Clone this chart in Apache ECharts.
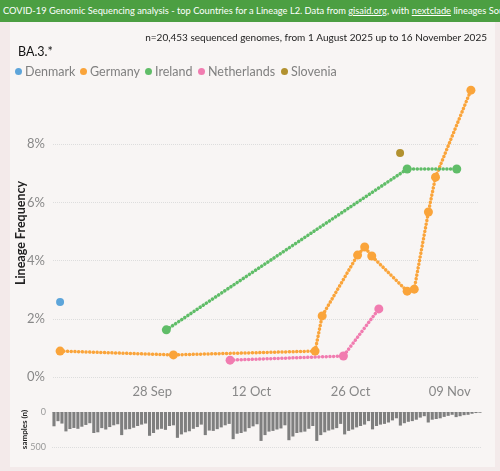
<!DOCTYPE html>
<html>
<head>
<meta charset="utf-8">
<title>BA.3.* lineage frequency</title>
<script src="https://cdn.jsdelivr.net/npm/echarts@6.0.0/dist/echarts.min.js"></script>
<style>
body { margin: 0; background: #f3eaea; font-family: Lato, sans-serif; }
#topbar { position: absolute; left: 0; top: 0; width: 500px; height: 22px; background: #4c9f42; color: #fff;
  font-size: 9.3px; line-height: 22px; white-space: nowrap; overflow: hidden; padding-left: 3px; box-sizing: border-box; }
#card { position: absolute; left: 10px; top: 22px; width: 485px; height: 445px; background: #f8f5f4; }
#chart { position: absolute; left: 0; top: 0; width: 500px; height: 471px; }
</style>
</head>
<body>
<div id="topbar">COVID-19 Genomic Sequencing analysis - top Countries for a Lineage L2. Data from <u>gisaid.org</u>, with <u>nextclade</u> lineages Source</div>
<div id="card"></div>
<div id="chart"></div>
<script type="text/javascript">
// frequency points per country (date, % of sequences)
var denmarkDates = ['2025-09-15'];
var denmarkValues = [2.58];
var germanyDates = ['2025-09-15', '2025-10-01', '2025-10-21', '2025-10-22', '2025-10-27', '2025-10-28',
  '2025-10-29', '2025-11-03', '2025-11-04', '2025-11-06', '2025-11-07', '2025-11-12'];
var germanyValues = [0.89, 0.76, 0.89, 2.1, 4.19, 4.47, 4.16, 2.95, 3.02, 5.67, 6.87, 9.86];
var irelandDates = ['2025-09-30', '2025-11-03', '2025-11-10'];
var irelandValues = [1.62, 7.15, 7.15];
var netherlandsDates = ['2025-10-09', '2025-10-25', '2025-10-30'];
var netherlandsValues = [0.58, 0.72, 2.34];
var sloveniaDates = ['2025-11-02'];
var sloveniaValues = [7.7];

// daily samples, 1 Aug 2025 .. 16 Nov 2025
var sampleCounts = [204, 131, 165,
  277, 243, 228, 240, 210, 185, 160,
  300, 290, 230, 250, 215, 190, 175,
  330, 250, 245, 225, 200, 180, 165,
  340, 300, 250, 240, 255, 200, 190,
  369, 320, 290, 275, 240, 215, 180,
  330, 265, 270, 245, 220, 190, 170,
  388, 310, 300, 280, 230, 205, 175,
  413, 330, 280, 270, 250, 235, 190,
  403, 350, 300, 290, 280, 240, 200,
  413, 330, 290, 265, 250, 230, 170,
  320, 270, 250, 220, 200, 180, 130,
  248, 200, 180, 170, 150, 120, 90,
  194, 160, 140, 130, 110, 80, 60,
  150, 110, 100, 90, 70, 55, 40,
  73, 60, 45, 40, 25, 15, 10];

var countries = ['Denmark', 'Germany', 'Ireland', 'Netherlands', 'Slovenia'];
var colors = ['#5da5da', '#faa43a', '#60bd68', '#f17cb0', '#b2912f'];
var legendLeft = [15, 80, 145, 198, 281];
var monthNames = ['Jan', 'Feb', 'Mar', 'Apr', 'May', 'Jun', 'Jul', 'Aug', 'Sep', 'Oct', 'Nov', 'Dec'];

// x axis counted in days from 14 Sep 2025 so ticks fall every 14 days on 28 Sep, 12 Oct ...
var day0 = Date.UTC(2025, 8, 14);
var DAY = 86400000;
function dayOf(s) {
	var p = s.split('-');
	return (Date.UTC(+p[0], +p[1] - 1, +p[2]) - day0) / DAY;
}
function pairs(dates, values) {
	var out = [];
	for (var i = 0; i < dates.length; i++) out.push([dayOf(dates[i]), values[i]]);
	return out;
}
var sampleDays = [];
for (var i = 0; i < sampleCounts.length; i++) {
	var d = new Date(Date.UTC(2025, 7, 1) + i * DAY);
	sampleDays.push(d.toISOString().slice(0, 10));
}

function lineSeries(name, data, color, size) {
	return {
		name: name,
		type: 'line',
		xAxisIndex: 0,
		yAxisIndex: 0,
		data: data,
		symbol: 'circle',
		symbolSize: size,
		color: color,
		lineStyle: { width: 3.5, type: [0.1, 3.6], cap: 'round', color: color },
		itemStyle: { color: color }
	};
}

// one legend per country so each entry sits where the original has it
var legends = [];
for (var k = 0; k < countries.length; k++) {
	legends.push({
		data: [countries[k]], left: legendLeft[k], top: 65, padding: 0,
		icon: 'circle', itemWidth: 7, itemHeight: 7,
		textStyle: { fontSize: 12.5, color: '#808080', padding: [0, 0, 0, -2] }
	});
}

var myChart = echarts.init(document.getElementById('chart'));
var option = {
	animation: false,
	textStyle: { fontFamily: 'Lato' },
	title: [{
		text: 'BA.3.*', left: 13, top: 40,
		textStyle: { fontSize: 12.5, fontWeight: 'normal', color: '#111' }
	}, {
		text: 'n=20,453 sequenced genomes, from 1 August 2025 up to 16 November 2025', right: 8, top: 28,
		textStyle: { fontSize: 10, fontWeight: 'normal', color: '#222' }
	}],
	legend: legends,
	grid: [
		{ left: 53, right: 22, top: 89, bottom: 94, outerBoundsMode: 'none' },
		{ left: 52, right: 18, top: 412, bottom: 24, outerBoundsMode: 'none' }
	],
	xAxis: [{
		type: 'value', gridIndex: 0, min: 0, max: 60, interval: 14,
		axisLine: { show: false }, axisTick: { show: false }, splitLine: { show: false },
		axisLabel: {
			color: '#888', fontSize: 13, margin: 8, showMinLabel: false, showMaxLabel: false,
			formatter: function (v) {
				var d = new Date(day0 + v * DAY);
				var dd = d.getUTCDate();
				return (dd < 10 ? '0' + dd : dd) + ' ' + monthNames[d.getUTCMonth()];
			}
		}
	}, {
		type: 'category', gridIndex: 1, data: sampleDays, show: false
	}],
	yAxis: [{
		type: 'value', gridIndex: 0, min: 0, max: 9.9, interval: 2,
		name: 'Lineage Frequency', nameLocation: 'middle', nameGap: 26, nameMoveOverlap: false,
		nameTextStyle: { fontSize: 12.5, fontWeight: 'bold', color: '#222' },
		axisLine: { show: false }, axisTick: { show: false },
		axisLabel: { formatter: '{value}%', color: '#888', fontSize: 13, margin: 8, showMaxLabel: false },
		splitLine: { showMaxLine: false, lineStyle: { type: 'dotted', color: '#dddddd', width: 1 } }
	}, {
		type: 'value', gridIndex: 1, min: 0, max: 500, interval: 500, inverse: true,
		name: 'samples (n)', nameLocation: 'middle', nameGap: 24, nameMoveOverlap: false,
		nameTextStyle: { fontSize: 8, fontWeight: 'bold', color: '#222' },
		axisLine: { show: false }, axisTick: { show: false },
		axisLabel: { color: '#999', fontSize: 9, margin: 6 },
		splitLine: { lineStyle: { type: 'dotted', color: '#dddddd', width: 1 } }
	}],
	series: [
		lineSeries('Denmark', pairs(denmarkDates, denmarkValues), colors[0], 8),
		lineSeries('Germany', pairs(germanyDates, germanyValues), colors[1], 9),
		lineSeries('Ireland', pairs(irelandDates, irelandValues), colors[2], 9),
		lineSeries('Netherlands', pairs(netherlandsDates, netherlandsValues), colors[3], 9),
		lineSeries('Slovenia', pairs(sloveniaDates, sloveniaValues), colors[4], 8),
		{
			name: 'samples', type: 'bar', xAxisIndex: 1, yAxisIndex: 1,
			data: sampleCounts, barCategoryGap: '22%',
			itemStyle: { color: '#7f7f7f' }
		}
	]
};
myChart.setOption(option);
</script>
</body>
</html>
